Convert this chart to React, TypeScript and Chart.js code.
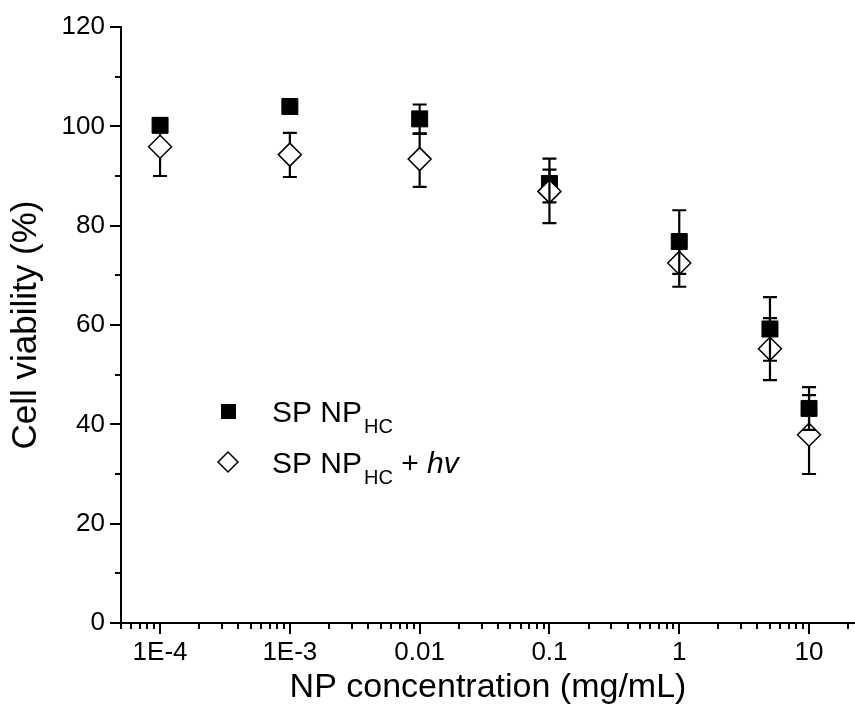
import React, { useEffect, useRef } from "react";
import { Chart, registerables } from "chart.js";

Chart.register(...registerables);

// ---- data ----
const concentrations = [1e-4, 1e-3, 0.01, 0.1, 1, 5, 10];
const viabilityHC = [100.2, 104.0, 101.5, 88.5, 76.8, 59.2, 43.2];
const errUpHC = [1.3, 1.0, 2.9, 5.0, 6.3, 6.4, 4.3];
const errDownHC = [1.2, 1.0, 2.9, 3.8, 6.5, 6.4, 4.3];
const viabilityHv = [95.9, 94.3, 93.4, 86.9, 72.5, 55.2, 37.9];
const errUpHv = [5.7, 4.4, 5.1, 4.4, 4.8, 6.2, 8.0];
const errDownHv = [5.9, 4.5, 5.6, 6.4, 4.8, 6.3, 7.9];
const xTickValues = [1e-4, 1e-3, 0.01, 0.1, 1, 10];
const xTickLabels = ["1E-4", "1E-3", "0.01", "0.1", "1", "10"];
const yTickValues = [0, 20, 40, 60, 80, 100, 120];
const yMinorValues = [10, 30, 50, 70, 90, 110];

const FONT = '"Liberation Sans", Arial, Helvetica, sans-serif';

function drawErrorBars(chart: any, dsIndex: number, up: number[], down: number[]) {
  const meta = chart.getDatasetMeta(dsIndex);
  const ys = chart.scales.y;
  const ctx = chart.ctx;
  ctx.save();
  ctx.strokeStyle = "#000";
  ctx.lineWidth = 2.2;
  meta.data.forEach((pt: any, i: number) => {
    const v = chart.data.datasets[dsIndex].data[i].y;
    const x = pt.x;
    const yTop = ys.getPixelForValue(v + up[i]);
    const yBot = ys.getPixelForValue(v - down[i]);
    ctx.beginPath();
    ctx.moveTo(x, yTop);
    ctx.lineTo(x, yBot);
    ctx.moveTo(x - 7, yTop);
    ctx.lineTo(x + 7, yTop);
    ctx.moveTo(x - 7, yBot);
    ctx.lineTo(x + 7, yBot);
    ctx.stroke();
  });
  ctx.restore();
}

const errorBarPlugin = {
  id: "errorBars",
  beforeDatasetsDraw(chart: any) {
    drawErrorBars(chart, 1, errUpHv, errDownHv);
  },
  afterDatasetsDraw(chart: any) {
    drawErrorBars(chart, 0, errUpHC, errDownHC);
  },
};

const tickPlugin = {
  id: "tickMarks",
  afterDraw(chart: any) {
    const ctx = chart.ctx;
    const xs = chart.scales.x;
    const ys = chart.scales.y;
    const area = chart.chartArea;
    ctx.save();
    ctx.strokeStyle = "#000";
    ctx.lineWidth = 2;
    ctx.beginPath();
    for (let d = -5; d <= 1; d++) {
      for (let m = 1; m <= 9; m++) {
        const v = m * Math.pow(10, d);
        if (v < xs.min || v > xs.max) continue;
        const px = Math.round(xs.getPixelForValue(v));
        const len = m === 1 ? 11 : 6;
        ctx.moveTo(px, area.bottom);
        ctx.lineTo(px, area.bottom + len);
      }
    }
    yTickValues.forEach((v) => {
      const py = Math.round(ys.getPixelForValue(v));
      ctx.moveTo(area.left, py);
      ctx.lineTo(area.left - 11, py);
    });
    yMinorValues.forEach((v) => {
      const py = Math.round(ys.getPixelForValue(v));
      ctx.moveTo(area.left, py);
      ctx.lineTo(area.left - 6, py);
    });
    ctx.stroke();
    ctx.restore();
  },
};

const legendPlugin = {
  id: "customLegend",
  afterDraw(chart: any) {
    const ctx = chart.ctx;
    ctx.save();
    ctx.fillStyle = "#000";
    ctx.strokeStyle = "#000";
    ctx.fillRect(221, 404, 15, 15);
    ctx.lineWidth = 1.5;
    ctx.beginPath();
    ctx.moveTo(218, 462);
    ctx.lineTo(228, 452);
    ctx.lineTo(238, 462);
    ctx.lineTo(228, 472);
    ctx.closePath();
    ctx.fillStyle = "#fff";
    ctx.fill();
    ctx.stroke();
    ctx.fillStyle = "#000";
    ctx.textBaseline = "alphabetic";
    ctx.textAlign = "left";
    const drawEntry = (baseline: number, suffix: boolean) => {
      let x = 272;
      ctx.font = `30px ${FONT}`;
      ctx.fillText("SP NP", x, baseline);
      x += ctx.measureText("SP NP").width + 2;
      ctx.font = `20px ${FONT}`;
      ctx.fillText("HC", x, baseline + 11);
      x += ctx.measureText("HC").width;
      if (suffix) {
        ctx.font = `30px ${FONT}`;
        ctx.fillText(" + ", x, baseline);
        x += ctx.measureText(" + ").width;
        ctx.font = `italic 30px ${FONT}`;
        ctx.fillText("hv", x, baseline);
      }
    };
    drawEntry(422, false);
    drawEntry(473, true);
    ctx.restore();
  },
};

export default function App() {
  const canvasRef = useRef<HTMLCanvasElement | null>(null);

  useEffect(() => {
    if (!canvasRef.current) return;
    const chart = new Chart(canvasRef.current, {
      type: "scatter",
      data: {
        datasets: [
          {
            label: "SP NP HC",
            data: concentrations.map((c, i) => ({ x: c, y: viabilityHC[i] })),
            pointStyle: "rect",
            pointRadius: 11.3,
            pointHoverRadius: 11.3,
            backgroundColor: "#000",
            borderColor: "#000",
            borderWidth: 1,
            showLine: false,
            order: 2,
          },
          {
            label: "SP NP HC + hv",
            data: concentrations.map((c, i) => ({ x: c, y: viabilityHv[i] })),
            pointStyle: "rectRot",
            pointRadius: 11.5,
            pointHoverRadius: 11.5,
            backgroundColor: "#fff",
            borderColor: "#000",
            borderWidth: 1.5,
            showLine: false,
            order: 1,
          },
        ],
      },
      options: {
        responsive: false,
        animation: false,
        devicePixelRatio: 1,
        layout: { autoPadding: false, padding: { top: 27, right: 0, left: 0, bottom: 0 } },
        plugins: {
          legend: { display: false },
          tooltip: { enabled: false },
        },
        scales: {
          x: {
            type: "logarithmic",
            min: 5e-5,
            max: 22.6,
            afterBuildTicks: (scale: any) => {
              scale.ticks = xTickValues.map((v) => ({ value: v }));
            },
            afterFit: (scale: any) => {
              scale.height = 85;
              scale.paddingLeft = 0;
              scale.paddingRight = 0;
              scale.paddingTop = 0;
              scale.paddingBottom = 0;
            },
            grid: { display: false, drawTicks: false },
            border: { display: true, color: "#000", width: 2 },
            ticks: {
              autoSkip: false,
              maxRotation: 0,
              padding: 14,
              color: "#000",
              font: { family: FONT, size: 26 },
              callback: (_v: any, i: number) => xTickLabels[i],
            },
            title: {
              display: true,
              text: "NP concentration (mg/mL)",
              color: "#000",
              font: { family: FONT, size: 34 },
              padding: { top: 0, bottom: 0 },
            },
          },
          y: {
            min: 0,
            max: 120,
            afterBuildTicks: (scale: any) => {
              scale.ticks = yTickValues.map((v) => ({ value: v }));
            },
            afterFit: (scale: any) => {
              scale.width = 121;
              scale.paddingLeft = 0;
              scale.paddingRight = 0;
              scale.paddingTop = 0;
              scale.paddingBottom = 0;
            },
            grid: { display: false, drawTicks: false },
            border: { display: true, color: "#000", width: 2 },
            ticks: {
              padding: 16,
              color: "#000",
              font: { family: FONT, size: 26 },
            },
            title: {
              display: true,
              text: "Cell viability (%)",
              color: "#000",
              font: { family: FONT, size: 35 },
              padding: { top: 5, bottom: 0 },
            },
          },
        },
      },
      plugins: [errorBarPlugin, tickPlugin, legendPlugin],
    });
    return () => chart.destroy();
  }, []);

  return (
    <div style={{ position: "absolute", left: 0, top: 0, width: 855, height: 708, background: "#fff" }}>
      <canvas ref={canvasRef} width={855} height={708} />
    </div>
  );
}
